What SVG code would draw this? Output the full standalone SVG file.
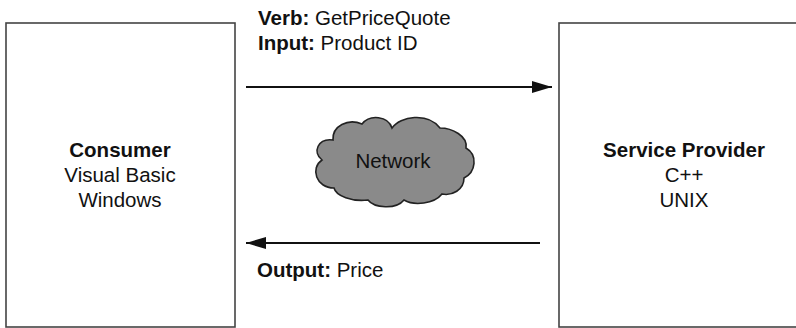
<svg xmlns="http://www.w3.org/2000/svg" width="796" height="328" viewBox="0 0 796 328">
<defs>
<style>
.box{fill:#fff;stroke:#444;stroke-width:1.6}
.t{font-family:"Liberation Sans",Arial,sans-serif;font-size:20.5px;fill:#111}
.b{font-weight:bold}
.c{text-anchor:middle}
.conn{stroke:#111;stroke-width:2;fill:none}
.cloud{fill:#8a8a8a;stroke:#222;stroke-width:1.6}
</style>
<marker id="ah" viewBox="0 0 20 12" refX="20" refY="6" markerWidth="20" markerHeight="12" markerUnits="userSpaceOnUse" orient="auto">
<path d="M0,0 L20,6 L0,12 Z" fill="#111"/>
</marker>
</defs>
<rect width="796" height="328" fill="#fff"/>
<g id="consumer">
<rect class="box" x="6" y="23" width="229" height="304"/>
<text class="t c b" x="120" y="157">Consumer</text>
<text class="t c" x="120" y="182">Visual Basic</text>
<text class="t c" x="120" y="207">Windows</text>
</g>
<g id="provider">
<rect class="box" x="559" y="23" width="260" height="304"/>
<text class="t c b" x="684" y="157">Service Provider</text>
<text class="t c" x="684" y="182">C++</text>
<text class="t c" x="684" y="207">UNIX</text>
</g>
<g id="network">
<path class="cloud" d="M322 160 C312 152,318 138,333 140 C332 126,348 118,362 124 C370 114,388 116,392 128 C400 116,428 112,440 128 C452 128,468 136,466 148 C478 155,476 172,464 178 C464 190,452 196,442 194 C434 204,414 206,404 200 C396 210,374 208,368 200 C352 202,336 196,334 188 C316 188,310 168,322 160 Z"/>
<text class="t c" x="393" y="168">Network</text>
</g>
<g id="connectors">
<line class="conn" x1="246" y1="87" x2="552" y2="87" marker-end="url(#ah)"/>
<line class="conn" x1="540" y1="243" x2="246" y2="243" marker-end="url(#ah)"/>
</g>
<g id="labels">
<text class="t" x="258" y="25"><tspan class="b">Verb:</tspan> GetPriceQuote</text>
<text class="t" x="258" y="50"><tspan class="b">Input:</tspan> Product ID</text>
<text class="t" x="257" y="277"><tspan class="b">Output:</tspan> Price</text>
</g>
</svg>
